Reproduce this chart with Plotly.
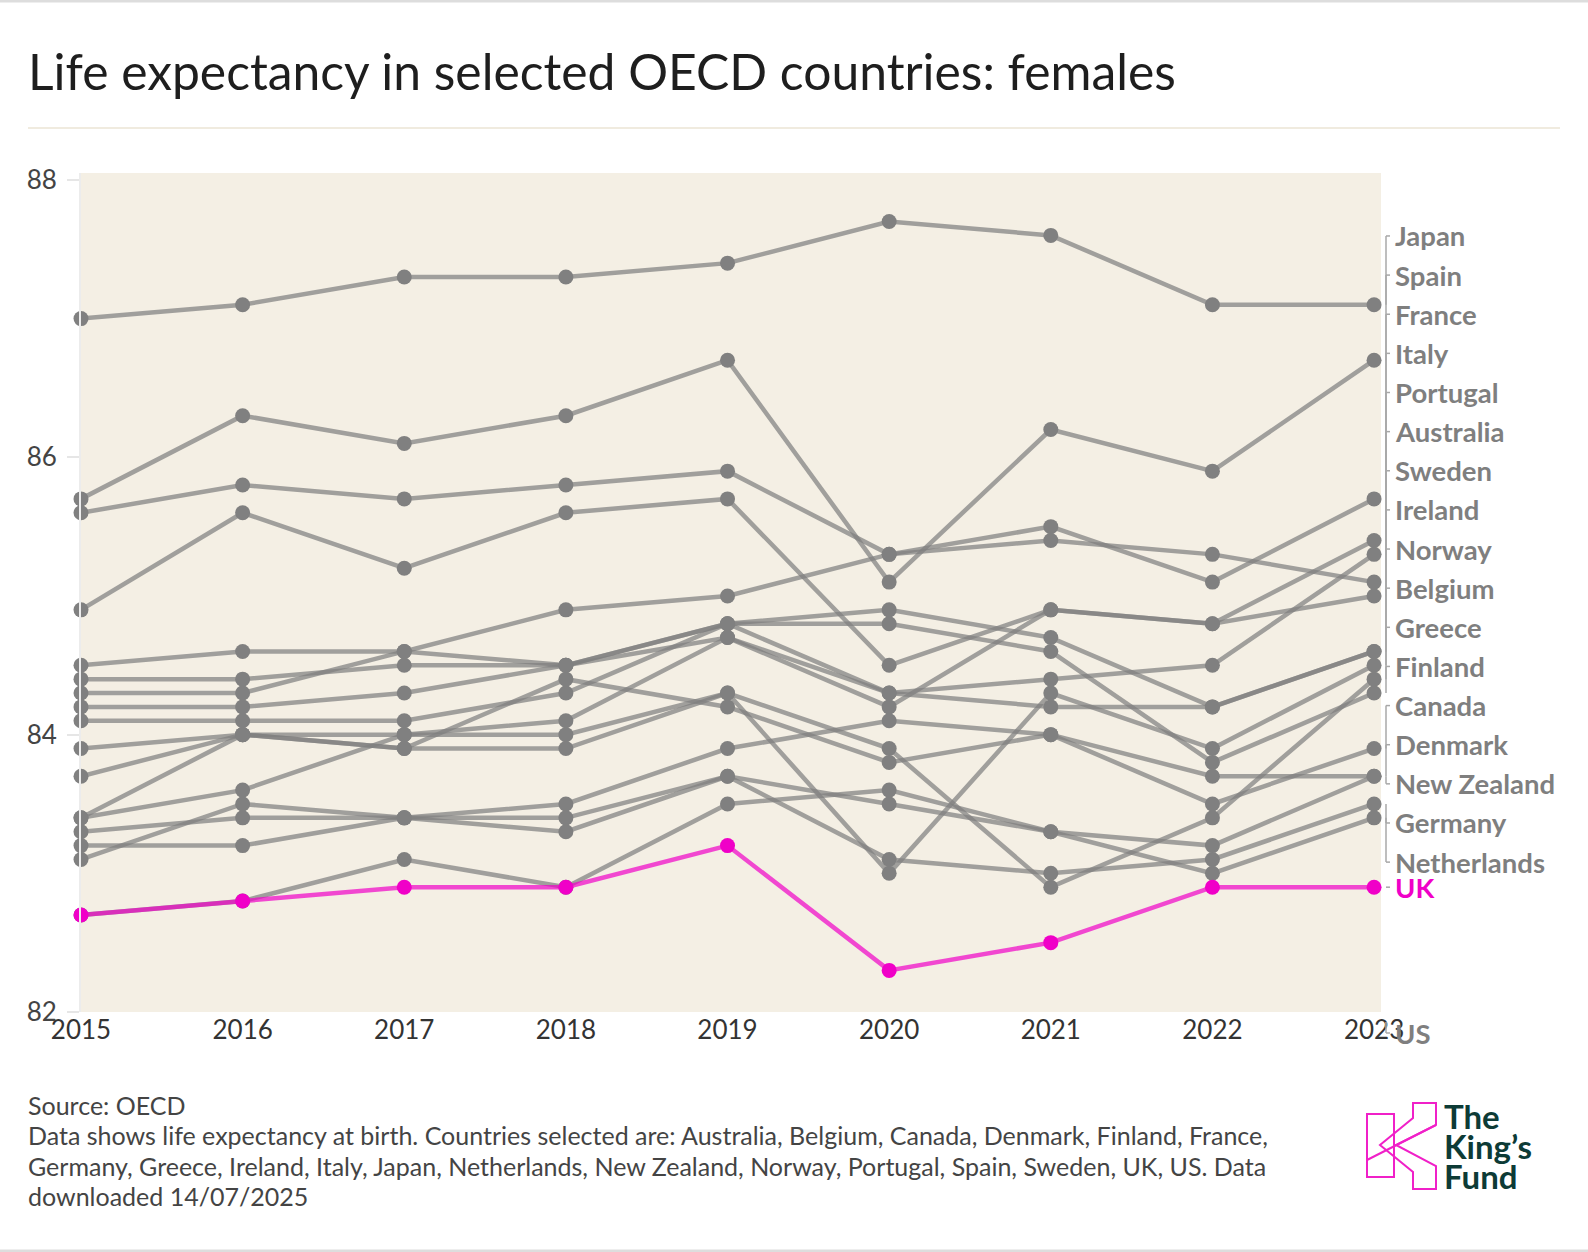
import plotly.graph_objects as go

# ---------------- data ----------------
years = [2015, 2016, 2017, 2018, 2019, 2020, 2021, 2022, 2023]

japan = [87.0, 87.1, 87.3, 87.3, 87.4, 87.7, 87.6, 87.1, 87.1]
spain = [85.7, 86.3, 86.1, 86.3, 86.7, 85.1, 86.2, 85.9, 86.7]
france = [85.6, 85.8, 85.7, 85.8, 85.9, 85.3, 85.5, 85.1, 85.7]
italy = [84.9, 85.6, 85.2, 85.6, 85.7, 84.5, 84.9, 84.8, 85.4]
portugal = [84.3, 84.3, 84.6, 84.5, 84.8, 84.3, 84.4, 84.5, 85.3]
australia = [84.5, 84.6, 84.6, 84.9, 85.0, 85.3, 85.4, 85.3, 85.1]
sweden = [84.2, 84.2, 84.3, 84.5, 84.7, 84.2, 84.9, 84.8, 85.0]
ireland = [83.4, 83.6, 84.0, 84.1, 84.7, 84.3, 84.2, 84.2, 84.6]
norway = [84.1, 84.1, 84.1, 84.3, 84.8, 84.9, 84.7, 84.2, 84.6]
belgium = [83.4, 84.0, 83.9, 83.9, 84.3, 83.0, 84.3, 83.9, 84.5]
greece = [83.7, 84.0, 84.0, 84.0, 84.3, 83.9, 82.9, 83.4, 84.4]
finland = [84.4, 84.4, 84.5, 84.5, 84.8, 84.8, 84.6, 83.8, 84.3]
canada = [83.9, 84.0, 83.9, 84.4, 84.2, 83.8, 84.0, 83.5, 83.9]
denmark = [82.7, 82.8, 83.1, 82.9, 83.5, 83.6, 83.3, 83.2, 83.7]
new_zealand = [83.3, 83.4, 83.4, 83.5, 83.9, 84.1, 84.0, 83.7, 83.7]
germany = [83.1, 83.5, 83.4, 83.3, 83.7, 83.1, 83.0, 83.1, 83.5]
netherlands = [83.2, 83.2, 83.4, 83.4, 83.7, 83.5, 83.3, 83.0, 83.4]
uk = [82.7, 82.8, 82.9, 82.9, 83.2, 82.3, 82.5, 82.9, 82.9]

others = [
    ("Japan", japan), ("Spain", spain), ("France", france), ("Italy", italy),
    ("Portugal", portugal), ("Australia", australia), ("Sweden", sweden),
    ("Ireland", ireland), ("Norway", norway), ("Belgium", belgium),
    ("Greece", greece), ("Finland", finland), ("Canada", canada),
    ("Denmark", denmark), ("New Zealand", new_zealand), ("Germany", germany),
    ("Netherlands", netherlands),
]

y_ticks = [82, 84, 86, 88]

title_text = "Life expectancy in selected OECD countries: females"
footer_lines = [
    "Source: OECD",
    "Data shows life expectancy at birth. Countries selected are: Australia, Belgium, Canada, Denmark, Finland, France,",
    "Germany, Greece, Ireland, Italy, Japan, Netherlands, New Zealand, Norway, Portugal, Spain, Sweden, UK, US. Data",
    "downloaded 14/07/2025",
]

# ---------------- layout constants ----------------
W, H = 1588, 1252
ML, MR, MT, MB = 81, 207, 173, 240
PW, PH = W - ML - MR, H - MT - MB
X_RANGE = [2015, 2023.043]
Y_RANGE = [82, 88.05]

GRAY_LINE = "rgba(128,128,128,0.72)"
GRAY_MARK = "#808080"
PINK = "#f000c8"
PINK_LINE = "rgba(240,0,200,0.7)"
BG = "#f4efe4"
MARKER_SIZE = 15


def px_x(px):
    return (px - ML) / PW


def px_y(py):
    return (MT + PH - py) / PH


fig = go.Figure()

for name, vals in others:
    fig.add_trace(go.Scatter(
        x=years, y=vals, name=name, mode="lines+markers",
        line=dict(color=GRAY_LINE, width=4.5),
        marker=dict(color=GRAY_MARK, size=MARKER_SIZE),
        cliponaxis=False, showlegend=False,
    ))

fig.add_trace(go.Scatter(
    x=years, y=uk, name="UK", mode="lines+markers",
    line=dict(color=PINK_LINE, width=4.5),
    marker=dict(color=PINK, size=MARKER_SIZE),
    cliponaxis=False, showlegend=False,
))

# ---------------- right-hand labels with leader lines ----------------
label_top = 87.596
label_step = 0.2822
x_line = px_x(1386)
x_tick = px_x(1390)
x_text = px_x(1393)
LEADER = "#a8a8a8"
LABEL_FONT = dict(family="Lato", size=27.5, color="#7f7f7f", weight="bold")

for i, (name, vals) in enumerate(others):
    ly = label_top - i * label_step
    dy = vals[-1]
    fig.add_shape(type="line", xref="paper", yref="y", x0=x_line, x1=x_line,
                  y0=dy, y1=ly, line=dict(color=LEADER, width=1.5))
    fig.add_shape(type="line", xref="paper", yref="y", x0=x_line, x1=x_tick,
                  y0=ly, y1=ly, line=dict(color=LEADER, width=1.5))
    fig.add_annotation(xref="paper", yref="y", x=x_text, y=ly, text=name,
                       showarrow=False, xanchor="left", yanchor="middle",
                       font=LABEL_FONT)

fig.add_shape(type="line", xref="paper", yref="y", x0=x_line, x1=x_tick,
              y0=uk[-1], y1=uk[-1], line=dict(color=LEADER, width=1.5))
fig.add_annotation(xref="paper", yref="y", x=x_text, y=uk[-1], text="UK",
                   showarrow=False, xanchor="left", yanchor="middle",
                   font=dict(family="Lato", size=27.5, color=PINK, weight="bold"))

# US label (value below the visible range)
fig.add_shape(type="line", xref="paper", yref="paper", x0=x_line, x1=x_line,
              y0=px_y(1022), y1=px_y(1033), line=dict(color=LEADER, width=1.5))
fig.add_shape(type="line", xref="paper", yref="paper", x0=x_line, x1=x_tick,
              y0=px_y(1033), y1=px_y(1033), line=dict(color=LEADER, width=1.5))
fig.add_annotation(xref="paper", yref="paper", x=x_text, y=px_y(1033), text="US",
                   showarrow=False, xanchor="left", yanchor="middle",
                   font=LABEL_FONT)

# ---------------- title, rules, footer ----------------
fig.add_annotation(xref="paper", yref="paper", x=px_x(26), y=px_y(71),
                   text=title_text, showarrow=False, xanchor="left", yanchor="middle",
                   font=dict(family="Lato", size=49.8, color="#1e1e1e"))
fig.add_shape(type="line", xref="paper", yref="paper", x0=px_x(28), x1=px_x(1560),
              y0=px_y(128), y1=px_y(128), line=dict(color="#f0ebdf", width=2))
fig.add_shape(type="line", xref="paper", yref="paper", x0=px_x(0), x1=px_x(W),
              y0=px_y(1), y1=px_y(1), line=dict(color="#dddddd", width=3))
fig.add_shape(type="line", xref="paper", yref="paper", x0=px_x(0), x1=px_x(W),
              y0=px_y(1251), y1=px_y(1251), line=dict(color="#dddddd", width=3))

for k, line_text in enumerate(footer_lines):
    fig.add_annotation(xref="paper", yref="paper", x=px_x(26), y=px_y(1105 + 30.3 * k),
                       text=line_text, showarrow=False, xanchor="left", yanchor="middle",
                       align="left", font=dict(family="Lato", size=25, color="#444444"))

# ---------------- logo ----------------
K_PINK = "#f020c8"
fig.add_shape(type="rect", xref="paper", yref="paper",
              x0=px_x(1367), x1=px_x(1394), y0=px_y(1114), y1=px_y(1177),
              line=dict(color=K_PINK, width=2))
k_pts = [(1413, 1103), (1436, 1103), (1436, 1125), (1396, 1145), (1436, 1166),
         (1436, 1189), (1413, 1189), (1413, 1172), (1380, 1145), (1413, 1118)]
path = "M " + " L ".join(f"{px_x(a):.5f},{px_y(b):.5f}" for a, b in k_pts) + " Z"
fig.add_shape(type="path", xref="paper", yref="paper", path=path,
              line=dict(color=K_PINK, width=2))
fig.add_shape(type="line", xref="paper", yref="paper",
              x0=px_x(1367), x1=px_x(1436), y0=px_y(1160), y1=px_y(1125),
              line=dict(color=K_PINK, width=2))
for word, cy in [("The", 1116), ("King\u2019s", 1146), ("Fund", 1176)]:
    fig.add_annotation(xref="paper", yref="paper", x=px_x(1442), y=px_y(cy),
                       text=word, showarrow=False, xanchor="left", yanchor="middle",
                       font=dict(family="Lato", size=33, color="#0d3b36", weight="bold"))

fig.update_layout(
    width=W, height=H,
    margin=dict(l=ML, r=MR, t=MT, b=MB, pad=0),
    paper_bgcolor="white", plot_bgcolor=BG,
    font=dict(family="Lato"),
    showlegend=False,
    xaxis=dict(range=X_RANGE, tickmode="array", tickvals=years,
               ticktext=[str(y) for y in years], showgrid=False, zeroline=False,
               showline=False, ticks="", tickfont=dict(family="Lato", size=26, color="#333333")),
    yaxis=dict(range=Y_RANGE, tickmode="array", tickvals=y_ticks,
               showgrid=False, zeroline=False, showline=True, linecolor="#ececec", linewidth=2,
               ticks="outside", ticklen=12, tickwidth=2, tickcolor="#e6e6e6",
               ticklabelstandoff=5,
               tickfont=dict(family="Lato", size=26, color="#444444")),
)

fig.write_html("out.html")
